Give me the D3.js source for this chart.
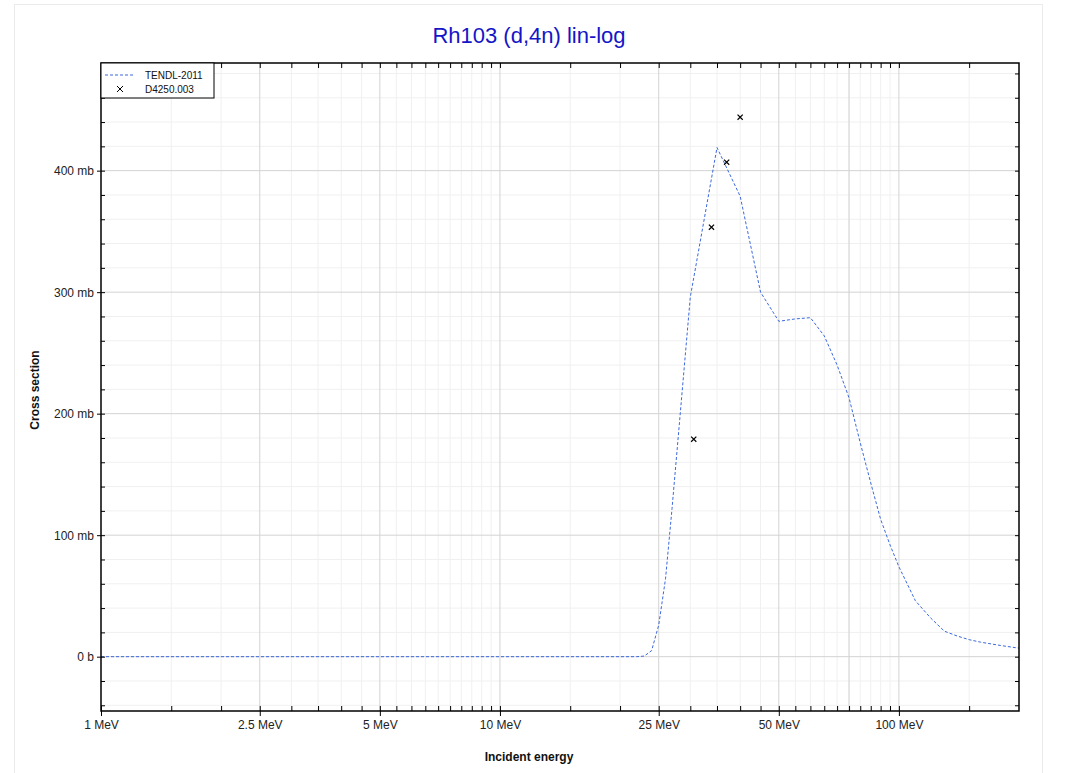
<!DOCTYPE html>
<html>
<head>
<meta charset="utf-8">
<script src="https://cdn.jsdelivr.net/npm/d3@7"></script>
<style>
  html, body { margin: 0; padding: 0; background: #fff; }
  svg { display: block; font-family: "Liberation Sans", Arial, sans-serif; }
</style>
</head>
<body>
<svg id="chart" width="1067" height="773"></svg>
<script>
// ---------------- data ----------------
const chartTitle = "Rh103 (d,4n) lin-log";
const xAxisTitle = "Incident energy";
const yAxisTitle = "Cross section";

// TENDL-2011 evaluation (MeV, mb)
const tendlEnergy = [1, 2, 5, 10, 15, 20, 22, 23, 24, 25, 26, 27, 28, 29, 30, 35, 40, 45, 50, 55, 60, 65, 70, 75, 80, 85, 90, 95, 100, 110, 120, 130, 140, 150, 160, 180, 200];
const tendlXS     = [0, 0, 0, 0, 0, 0, 0, 0.5, 5, 26, 64, 122, 182, 240, 296, 419, 379, 300, 276, 278, 279, 264, 240, 213, 176, 143, 113, 92, 74, 46, 32, 21, 17, 14, 12, 9.2, 7];

// EXFOR D4250.003 (MeV, mb)
const exforEnergy = [30.6, 33.9, 37.0, 40.0];
const exforXS     = [179, 353.5, 407, 444];

// ticks
const xMajorTicks  = [1, 2.5, 5, 10, 25, 50, 100];
const xTickLabels  = ["1 MeV", "2.5 MeV", "5 MeV", "10 MeV", "25 MeV", "50 MeV", "100 MeV"];
const xMajorGrid   = [2.5, 5, 10, 25, 50, 75, 100];
const xMinorTicks  = [1.5, 2, 3, 3.5, 4, 4.5, 5.5, 6, 6.5, 7, 7.5, 8, 8.5, 9, 9.5, 15, 20, 30, 35, 40, 45, 55, 60, 65, 70, 75, 80, 85, 90, 95, 150];
const yMajorTicks  = [0, 100, 200, 300, 400];
const yTickLabels  = ["0 b", "100 mb", "200 mb", "300 mb", "400 mb"];
const yMinorTicks  = [-40, -20, 20, 40, 60, 80, 120, 140, 160, 180, 220, 240, 260, 280, 320, 340, 360, 380, 420, 440, 460, 480];

const legendNames = ["TENDL-2011", "D4250.003"];

// ---------------- layout ----------------
const L = 101, R = 1019, T = 63, B = 711;
const svg = d3.select("#chart");

const x = d3.scaleLog().domain([1, 200]).range([L, R]);
const y = d3.scaleLinear().domain([-44.7, 488.6]).range([B, T]);

// outer frame
svg.append("rect").attr("x", 14.5).attr("y", 4.5).attr("width", 1028).attr("height", 820)
  .attr("fill", "#fff").attr("stroke", "#ebebeb").attr("stroke-width", 1);

// title
svg.append("text").attr("x", 529).attr("y", 43).attr("text-anchor", "middle")
  .attr("font-size", 22).attr("fill", "#1515c8").text(chartTitle);

// grid
const grid = svg.append("g");
grid.selectAll(".xmin").data(xMinorTicks).join("line")
  .attr("x1", d => x(d)).attr("x2", d => x(d)).attr("y1", T).attr("y2", B)
  .attr("stroke", "#f0f0f0").attr("stroke-width", 1);
grid.selectAll(".ymin").data(yMinorTicks).join("line")
  .attr("x1", L).attr("x2", R).attr("y1", d => y(d)).attr("y2", d => y(d))
  .attr("stroke", "#f0f0f0").attr("stroke-width", 1);
grid.selectAll(".xmaj").data(xMajorGrid).join("line")
  .attr("x1", d => x(d)).attr("x2", d => x(d)).attr("y1", T).attr("y2", B)
  .attr("stroke", "#d3d3d3").attr("stroke-width", 1);
grid.selectAll(".ymaj").data(yMajorTicks).join("line")
  .attr("x1", L).attr("x2", R).attr("y1", d => y(d)).attr("y2", d => y(d))
  .attr("stroke", "#d3d3d3").attr("stroke-width", 1);

// TENDL curve
const line = d3.line().x((d, i) => x(tendlEnergy[i])).y(d => y(d));
svg.append("path").datum(tendlXS).attr("d", line)
  .attr("fill", "none").attr("stroke", "#3b68dc").attr("stroke-width", 1)
  .attr("stroke-dasharray", "3,2");

// EXFOR markers
const cross = s => `M${-s},${-s}L${s},${s}M${-s},${s}L${s},${-s}`;
svg.append("g").selectAll("path").data(exforXS).join("path")
  .attr("transform", (d, i) => `translate(${x(exforEnergy[i])},${y(d)})`)
  .attr("d", cross(2.6)).attr("stroke", "#000").attr("stroke-width", 1.2).attr("fill", "none");

// axes
const tickFont = g => g.selectAll("text").attr("font-size", 12).attr("fill", "#222")
  .attr("font-family", "Liberation Sans, Arial, sans-serif");

const xb = svg.append("g").attr("transform", `translate(0,${B})`)
  .call(d3.axisBottom(x).tickValues(xMajorTicks).tickFormat((d, i) => xTickLabels[i]).tickSize(5).tickPadding(4));
xb.select(".domain").remove();
xb.selectAll("line").attr("y1", -5).attr("stroke", "#000");
tickFont(xb);

const xbm = svg.append("g").attr("transform", `translate(0,${B})`)
  .call(d3.axisBottom(x).tickValues(xMinorTicks).tickFormat("").tickSize(-5));
xbm.select(".domain").remove();
xbm.selectAll("line").attr("stroke", "#000");

const xt = svg.append("g").attr("transform", `translate(0,${T})`)
  .call(d3.axisTop(x).tickValues(xMajorTicks.concat(xMinorTicks)).tickFormat("").tickSize(-5));
xt.select(".domain").remove();
xt.selectAll("line").attr("stroke", "#000");

const yl = svg.append("g").attr("transform", `translate(${L},0)`)
  .call(d3.axisLeft(y).tickValues(yMajorTicks).tickFormat((d, i) => yTickLabels[i]).tickSize(4).tickPadding(3));
yl.select(".domain").remove();
yl.selectAll("line").attr("x1", 4).attr("stroke", "#000");
tickFont(yl);

const ylm = svg.append("g").attr("transform", `translate(${L},0)`)
  .call(d3.axisLeft(y).tickValues(yMinorTicks).tickFormat("").tickSize(-4));
ylm.select(".domain").remove();
ylm.selectAll("line").attr("stroke", "#000");

const yr = svg.append("g").attr("transform", `translate(${R},0)`)
  .call(d3.axisRight(y).tickValues(yMajorTicks.concat(yMinorTicks)).tickFormat("").tickSize(-4));
yr.select(".domain").remove();
yr.selectAll("line").attr("stroke", "#000");

// frame
svg.append("rect").attr("x", L).attr("y", T).attr("width", R - L).attr("height", B - T)
  .attr("fill", "none").attr("stroke", "#000").attr("stroke-width", 1.5);

// axis titles
svg.append("text").attr("x", 529).attr("y", 761).attr("text-anchor", "middle")
  .attr("font-size", 12).attr("font-weight", "bold").attr("fill", "#111").text(xAxisTitle);
svg.append("text").attr("transform", "translate(39,390) rotate(-90)").attr("text-anchor", "middle")
  .attr("font-size", 12).attr("font-weight", "bold").attr("fill", "#111").text(yAxisTitle);

// legend
const lg = svg.append("g");
lg.append("rect").attr("x", L).attr("y", T).attr("width", 113).attr("height", 35)
  .attr("fill", "#fff").attr("stroke", "#000").attr("stroke-width", 1);
lg.append("line").attr("x1", 105).attr("x2", 135).attr("y1", 75).attr("y2", 75)
  .attr("stroke", "#3b68dc").attr("stroke-width", 1).attr("stroke-dasharray", "3,2");
lg.append("path").attr("transform", "translate(120,89)").attr("d", cross(3))
  .attr("stroke", "#000").attr("stroke-width", 1).attr("fill", "none");
lg.selectAll("text").data(legendNames).join("text")
  .attr("x", 145).attr("y", (d, i) => 78.5 + i * 14)
  .attr("font-size", 10).attr("fill", "#111").text(d => d);
</script>
</body>
</html>
